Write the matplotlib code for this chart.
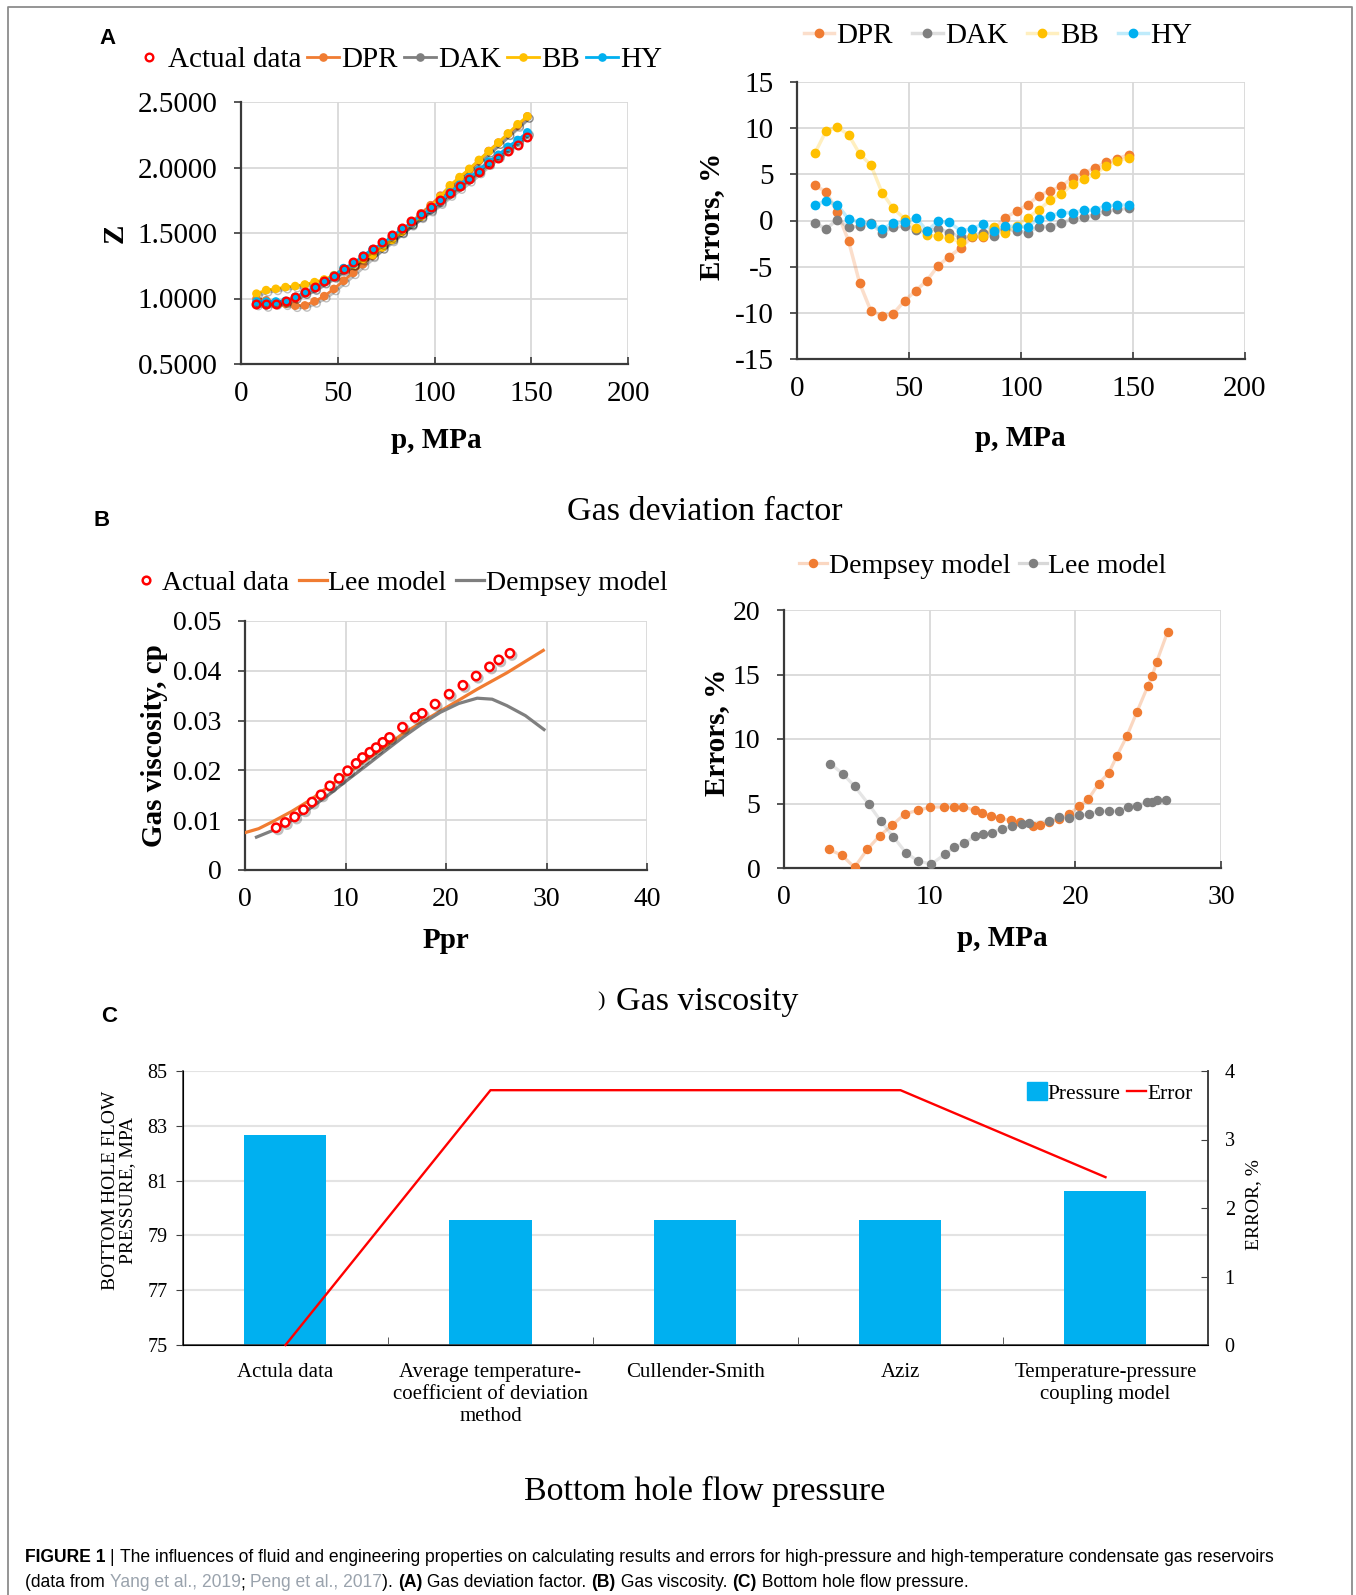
import matplotlib
matplotlib.use("Agg")
import matplotlib.pyplot as plt
import numpy as np
from matplotlib.lines import Line2D
from matplotlib.patches import Patch
from matplotlib import font_manager
import matplotlib.patheffects as pe

# ---------------- data: panel A (gas deviation factor) ----------------
p_A = [8, 13, 18, 23, 28, 33, 38, 43, 48, 53, 58, 63, 68, 73, 78, 83, 88, 93, 98,
       103, 108, 113, 118, 123, 128, 133, 138, 143, 148]
z_actual = [0.961, 0.956, 0.961, 0.981, 1.014, 1.049, 1.090, 1.132, 1.175, 1.228, 1.279, 1.327,
            1.380, 1.435, 1.486, 1.536, 1.594, 1.645, 1.695, 1.755, 1.806, 1.859, 1.909, 1.962,
            2.023, 2.073, 2.124, 2.174, 2.230]
z_dpr = [0.998, 0.986, 0.970, 0.960, 0.945, 0.947, 0.978, 1.018, 1.073, 1.135, 1.196, 1.262,
         1.326, 1.392, 1.460, 1.508, 1.580, 1.650, 1.712, 1.785, 1.855, 1.918, 1.980, 2.052,
         2.126, 2.190, 2.257, 2.320, 2.390]
z_dak = [0.958, 0.947, 0.962, 0.974, 1.008, 1.046, 1.075, 1.124, 1.168, 1.216, 1.265, 1.315,
         1.362, 1.409, 1.461, 1.516, 1.567, 1.630, 1.675, 1.732, 1.794, 1.847, 1.903, 1.966,
         2.030, 2.085, 2.145, 2.200, 2.259]
z_bb = [1.037, 1.064, 1.074, 1.087, 1.095, 1.107, 1.125, 1.145, 1.178, 1.226, 1.258, 1.301,
        1.334, 1.390, 1.447, 1.510, 1.574, 1.624, 1.700, 1.776, 1.864, 1.927, 1.990, 2.058,
        2.124, 2.190, 2.260, 2.330, 2.390]
z_hy = [0.977, 0.976, 0.977, 0.982, 1.012, 1.045, 1.080, 1.129, 1.173, 1.232, 1.265, 1.326,
        1.377, 1.419, 1.473, 1.530, 1.576, 1.635, 1.684, 1.744, 1.810, 1.868, 1.925, 1.979,
        2.045, 2.097, 2.158, 2.210, 2.268]
err_dpr = [3.8, 3.1, 0.9, -2.2, -6.8, -9.8, -10.3, -10.1, -8.7, -7.6, -6.5, -4.9, -3.9, -3.0,
           -1.8, -1.8, -0.9, 0.3, 1.0, 1.7, 2.7, 3.2, 3.7, 4.6, 5.1, 5.7, 6.3, 6.7, 7.1]
err_dak = [-0.3, -0.9, 0.1, -0.75, -0.6, -0.3, -1.35, -0.7, -0.6, -1.0, -1.1, -0.9, -1.3, -1.8,
           -1.7, -1.3, -1.7, -0.9, -1.15, -1.3, -0.65, -0.65, -0.3, 0.2, 0.35, 0.6, 1.0, 1.2, 1.3]
err_bb = [7.3, 9.7, 10.1, 9.3, 7.2, 6.0, 3.0, 1.3, 0.2, -0.8, -1.6, -1.7, -1.9, -2.3, -1.7,
          -1.65, -0.75, -1.3, -0.6, 0.3, 1.15, 2.2, 2.9, 3.9, 4.5, 5.0, 5.9, 6.4, 6.8]
err_hy = [1.7, 2.1, 1.7, 0.15, -0.15, -0.4, -0.9, -0.3, -0.2, 0.3, -1.1, -0.1, -0.2, -1.1,
          -0.9, -0.4, -1.1, -0.6, -0.65, -0.65, 0.2, 0.5, 0.85, 0.85, 1.1, 1.15, 1.6, 1.65, 1.7]
z_ticks = [0.5, 1.0, 1.5, 2.0, 2.5]
z_ticklabels = ["0.5000", "1.0000", "1.5000", "2.0000", "2.5000"]
pA_ticks = [0, 50, 100, 150, 200]
errA_ticks = [-15, -10, -5, 0, 5, 10, 15]

# ---------------- data: panel B (gas viscosity) ----------------
ppr_actual = [3.1, 4.0, 4.94, 5.82, 6.67, 7.56, 8.44, 9.36, 10.21, 11.06, 11.69, 12.42, 13.05,
              13.71, 14.38, 15.67, 16.92, 17.62, 18.91, 20.31, 21.68, 23.0, 24.33, 25.25, 26.36]
mu_actual = [0.00848, 0.00954, 0.01066, 0.0121, 0.01364, 0.0151, 0.01689, 0.01841, 0.01993,
             0.0214, 0.02258, 0.02364, 0.02457, 0.02563, 0.02662, 0.02868, 0.03066, 0.03146,
             0.03331, 0.0353, 0.03709, 0.03894, 0.04079, 0.04219, 0.04351]
ppr_lee = [0, 1.36, 2.84, 4.68, 6.53, 8.37, 10.2, 12.05, 13.9, 15.74, 17.59, 19.43, 21.27,
           23.1, 26.06, 29.68]
mu_lee = [0.0075, 0.0083, 0.0098, 0.0118, 0.0141, 0.0168, 0.0194, 0.0221, 0.0247, 0.0274,
          0.0297, 0.0319, 0.0341, 0.0363, 0.0396, 0.0441]
ppr_demp = [1.14, 2.84, 4.68, 6.53, 8.37, 10.2, 12.05, 13.9, 15.74, 17.59, 19.43, 21.27, 23.1,
            24.59, 26.06, 27.9, 29.75]
mu_demp = [0.0066, 0.0080, 0.0100, 0.01245, 0.01517, 0.01808, 0.02093, 0.02384, 0.02669,
           0.02934, 0.03166, 0.03344, 0.0345, 0.0343, 0.0330, 0.0310, 0.0282]
p_err_demp = [3.06, 3.97, 4.84, 5.72, 6.56, 7.43, 8.31, 9.23, 10.04, 11.0, 11.65, 12.31, 13.13,
              13.62, 14.24, 14.85, 15.59, 16.21, 17.07, 17.57, 18.18, 18.9, 19.59, 20.28, 20.9,
              21.61, 22.3, 22.85, 23.54, 24.23, 24.97, 25.27, 25.59, 26.33]
err_demp = [1.45, 0.99, 0.05, 1.45, 2.49, 3.32, 4.21, 4.47, 4.73, 4.73, 4.73, 4.73, 4.47, 4.26,
            4.05, 3.84, 3.69, 3.58, 3.22, 3.32, 3.58, 3.79, 4.16, 4.83, 5.35, 6.55, 7.38, 8.68,
            10.23, 12.1, 14.08, 14.86, 16.0, 18.29]
p_err_lee = [3.16, 4.02, 4.84, 5.82, 6.64, 7.5, 8.36, 9.23, 10.12, 11.08, 11.7, 12.39, 13.13,
             13.67, 14.29, 14.98, 15.64, 16.33, 16.83, 18.18, 18.9, 19.59, 20.28, 20.95, 21.61,
             22.3, 22.99, 23.59, 24.23, 24.9, 25.27, 25.59, 26.25]
err_lee = [8.1, 7.32, 6.34, 4.94, 3.64, 2.44, 1.19, 0.52, 0.31, 1.09, 1.61, 1.92, 2.49, 2.6,
           2.75, 3.06, 3.22, 3.38, 3.48, 3.64, 3.95, 3.84, 4.1, 4.16, 4.42, 4.42, 4.42, 4.73,
           4.83, 5.12, 5.14, 5.3, 5.25]
mu_ticks = [0, 0.01, 0.02, 0.03, 0.04, 0.05]
mu_ticklabels = ["0", "0.01", "0.02", "0.03", "0.04", "0.05"]
ppr_ticks = [0, 10, 20, 30, 40]
pB_ticks = [0, 10, 20, 30]
errB_ticks = [0, 5, 10, 15, 20]

# ---------------- data: panel C (bottom hole flow pressure) ----------------
methods = ["Actula data", "Average temperature-\ncoefficient of deviation\nmethod",
           "Cullender-Smith", "Aziz", "Temperature-pressure\ncoupling model"]
bhp = [82.66, 79.58, 79.58, 79.58, 80.63]
bhp_error = [0.0, 3.72, 3.72, 3.72, 2.45]
bhp_ticks = [75, 77, 79, 81, 83, 85]
errC_ticks = [0, 1, 2, 3, 4]

# ---------------- styling ----------------
W, H = 1356, 1595
DPI = 100
SERIF = "Liberation Serif"
C_ORANGE = "#F07C32"
C_GREY = "#7F7F7F"
C_GOLD = "#FFC000"
C_BLUE = "#00B0F0"
C_RED = "#FF0000"
GRID = "#D9D9D9"
AX = "#3A3A3A"

plt.rcParams["font.family"] = [SERIF, "DejaVu Serif"]
plt.rcParams["axes.unicode_minus"] = False
fig = plt.figure(figsize=(W / DPI, H / DPI), dpi=DPI)
fig.patch.set_facecolor("white")


def axes_px(l, t, r, b):
    return fig.add_axes([l / W, 1 - b / H, (r - l) / W, (b - t) / H])


def fx(x):
    return x / W


def fy(y):
    return 1 - y / H


def style_xy(ax, fs):
    ax.grid(True, color=GRID, lw=1.3, zorder=0)
    ax.set_axisbelow(True)
    for s in ("top", "right"):
        ax.spines[s].set_visible(False)
    for s in ("left", "bottom"):
        ax.spines[s].set_color(AX)
        ax.spines[s].set_linewidth(1.6)
    ax.tick_params(axis="y", direction="out", length=5, width=1.2, color=AX,
                   labelsize=fs, pad=12)
    ax.tick_params(axis="x", direction="in", length=5, width=1.2, color=AX,
                   labelsize=fs, pad=12)


def place_labels(ax, xl, yl, xpos, ypos, fs):
    ax.set_xlabel(xl, fontsize=fs, fontweight="bold", va="center", ha="center")
    ax.set_ylabel(yl, fontsize=fs, fontweight="bold", va="center", ha="center")
    ax.xaxis.set_label_coords(fx(xpos[0]), fy(xpos[1]), transform=fig.transFigure)
    ax.yaxis.set_label_coords(fx(ypos[0]), fy(ypos[1]), transform=fig.transFigure)


# figure frame (open at the bottom)
fig.add_artist(Line2D([fx(8), fx(8), fx(1352), fx(1352)], [0, fy(7), fy(7), 0],
                      transform=fig.transFigure, color="#8C8C8C", lw=1.3))

# panel letters
for letter, (x, y) in {"A": (107, 38), "B": (102, 521), "C": (109, 1016)}.items():
    fig.text(fx(x), fy(y), letter, fontsize=16, fontweight="bold",
             family=["Liberation Sans", "DejaVu Sans"], ha="center", va="center")

FS_A = 21
shadow = [pe.SimpleLineShadow(offset=(1.5, -1.5), alpha=0.25, shadow_color="k"), pe.Normal()]

# ---- Panel A left: Z vs p
axA1 = axes_px(241, 102, 628, 364)
style_xy(axA1, FS_A)
ms = 5.2
for data, col, lab in ((z_dpr, C_ORANGE, "DPR"), (z_dak, C_GREY, "DAK"),
                       (z_bb, C_GOLD, "BB"), (z_hy, C_BLUE, "HY")):
    axA1.plot(p_A, data, "-o", color=col, ms=ms, lw=2.0, label=lab, zorder=3,
              path_effects=shadow)
axA1.plot(p_A, z_actual, "o", mfc="none", mec=C_RED, mew=1.7, ms=5.5, label="Actual data",
          zorder=5)
axA1.set_xlim(0, 200)
axA1.set_ylim(0.5, 2.5)
axA1.set_xticks(pA_ticks)
axA1.set_yticks(z_ticks)
axA1.set_yticklabels(z_ticklabels)
place_labels(axA1, "p, MPa", "Z", (436, 441), (115, 233), 21)
hA1 = [Line2D([], [], ls="none", marker="o", mfc="none", mec=C_RED, mew=1.7, ms=5.5)] + \
      [Line2D([], [], color=c, marker="o", ms=ms, lw=2.0) for c in (C_ORANGE, C_GREY, C_GOLD, C_BLUE)]
fig.legend(hA1, ["Actual data", "DPR", "DAK", "BB", "HY"], loc="center",
           bbox_to_anchor=(fx(398), fy(60)), ncol=5, frameon=False, fontsize=FS_A,
           handlelength=1.1, handletextpad=0.08, columnspacing=0.2, borderpad=0)

# ---- Panel A right: errors
axA2 = axes_px(797, 82, 1245, 359)
style_xy(axA2, FS_A)
msA2 = 6.0
for data, col, lab in ((err_dpr, C_ORANGE, "DPR"), (err_dak, C_GREY, "DAK"),
                       (err_bb, C_GOLD, "BB"), (err_hy, C_BLUE, "HY")):
    axA2.plot(p_A, data, "-", color=col, lw=2.5, alpha=0.25, zorder=2)
    axA2.plot(p_A, data, "o", color=col, ms=msA2, label=lab, zorder=3)
axA2.set_xlim(0, 200)
axA2.set_ylim(-15, 15)
axA2.set_xticks(pA_ticks)
axA2.set_yticks(errA_ticks)
place_labels(axA2, "p, MPa", "Errors, %", (1020, 439), (712, 216), 21)
hA2 = [(Line2D([], [], color=c, lw=2.5, alpha=0.25), Line2D([], [], color=c, ls="none", marker="o", ms=msA2))
       for c in (C_ORANGE, C_GREY, C_GOLD, C_BLUE)]
fig.legend(hA2, ["DPR", "DAK", "BB", "HY"], loc="center",
           bbox_to_anchor=(fx(998), fy(36)), ncol=4, frameon=False, fontsize=FS_A,
           handlelength=1.05, handletextpad=0.08, columnspacing=0.65, borderpad=0)

fig.text(fx(705), fy(512), "Gas deviation factor", fontsize=24.5, ha="center", va="center")

# ---- Panel B left: viscosity
FS_B = 20
axB1 = axes_px(245, 621, 647, 870)
style_xy(axB1, FS_B)
axB1.plot(ppr_lee, mu_lee, "-", color=C_ORANGE, lw=2.3, zorder=3, label="Lee model")
axB1.plot(ppr_demp, mu_demp, "-", color=C_GREY, lw=2.3, zorder=3, label="Dempsey model")
axB1.plot(ppr_actual, mu_actual, "o", mfc="white", mec=C_RED, mew=1.8, ms=6,
          zorder=5, label="Actual data", path_effects=shadow)
axB1.set_xlim(0, 40)
axB1.set_ylim(0, 0.05)
axB1.set_xticks(ppr_ticks)
axB1.set_yticks(mu_ticks)
axB1.set_yticklabels(mu_ticklabels)
place_labels(axB1, "Ppr", "Gas viscosity, cp", (446, 940), (155, 746), 21)
hB1 = [Line2D([], [], ls="none", marker="o", mfc="white", mec=C_RED, mew=1.8, ms=5.5),
       Line2D([], [], color=C_ORANGE, lw=2.3), Line2D([], [], color=C_GREY, lw=2.3)]
fig.legend(hB1, ["Actual data", "Lee model", "Dempsey model"], loc="center",
           bbox_to_anchor=(fx(400), fy(583)), ncol=3, frameon=False, fontsize=FS_B,
           handlelength=1.0, handletextpad=0.06, columnspacing=0.35, borderpad=0)

# ---- Panel B right: viscosity errors
axB2 = axes_px(784, 610, 1221, 868)
style_xy(axB2, FS_B)
axB2.plot(p_err_demp, err_demp, "-", color=C_ORANGE, lw=2.3, alpha=0.3, zorder=2)
axB2.plot(p_err_demp, err_demp, "o", color=C_ORANGE, ms=5.8, zorder=3)
axB2.plot(p_err_lee, err_lee, "-", color=C_GREY, lw=2.3, alpha=0.2, zorder=2)
axB2.plot(p_err_lee, err_lee, "o", color=C_GREY, ms=5.8, zorder=3)
axB2.set_xlim(0, 30)
axB2.set_ylim(0, 20)
axB2.set_xticks(pB_ticks)
axB2.set_yticks(errB_ticks)
place_labels(axB2, "p, MPa", "Errors, %", (1002, 939), (717, 732), 21)
hB2 = [(Line2D([], [], color=c, lw=2.3, alpha=0.3), Line2D([], [], color=c, ls="none", marker="o", ms=5.8))
       for c in (C_ORANGE, C_GREY)]
fig.legend(hB2, ["Dempsey model", "Lee model"], loc="center",
           bbox_to_anchor=(fx(983), fy(566)), ncol=2, frameon=False, fontsize=FS_B,
           handlelength=1.0, handletextpad=0.06, columnspacing=0.3, borderpad=0)

fig.text(fx(707), fy(1002), "Gas viscosity", fontsize=24.5, ha="center", va="center")
fig.text(fx(601), fy(1002), ")", fontsize=16, ha="center", va="center")

# ---- Panel C: bottom hole flow pressure
axC = axes_px(183, 1071, 1208, 1345)
xc = np.arange(len(methods))
axC.bar(xc, bhp, width=0.4, color=C_BLUE, zorder=2, label="Pressure")
axC.set_ylim(75, 85)
axC.set_xlim(-0.5, len(methods) - 0.5)
axC.set_yticks(bhp_ticks)
axC.yaxis.grid(True, color="#E3E3E3", lw=1.5, zorder=0)
axC.set_axisbelow(True)
axC.spines["top"].set_visible(False)
for s in ("left", "bottom", "right"):
    axC.spines[s].set_color("#404040")
    axC.spines[s].set_linewidth(1.2)
axC.set_xticks(xc)
axC.set_xticklabels(methods, fontsize=15, linespacing=1.22)
axC.set_xticks(np.arange(0.5, len(methods) - 0.5, 1.0), minor=True)
axC.tick_params(axis="x", which="major", length=0, pad=13)
axC.tick_params(axis="x", which="minor", direction="in", length=6, color="#404040")
axC.tick_params(axis="y", direction="out", length=5, labelsize=14.5, pad=6, color="#404040")
axC.set_ylabel("BOTTOM HOLE FLOW\nPRESSURE, MPA", fontsize=14, linespacing=1.05,
               va="center", ha="center")
axC.yaxis.set_label_coords(fx(119), fy(1190), transform=fig.transFigure)

axC2 = axC.twinx()
axC2.plot(xc, bhp_error, "-", color=C_RED, lw=1.7, label="Error", clip_on=False, zorder=4)
axC2.set_ylim(0, 4)
axC2.set_yticks(errC_ticks)
axC2.tick_params(axis="y", direction="in", length=5, labelsize=14.5, pad=12, color="#404040")
axC2.spines["top"].set_visible(False)
axC2.spines["right"].set_color("#404040")
axC2.spines["right"].set_linewidth(1.2)
axC2.set_ylabel("ERROR, %", fontsize=14, va="center", ha="center")
axC2.yaxis.set_label_coords(fx(1254), fy(1205), transform=fig.transFigure)
hC = [Patch(color=C_BLUE), Line2D([], [], color=C_RED, lw=1.7)]
axC2.legend(hC, ["Pressure", "Error"], loc="center", bbox_to_anchor=(fx(1110), fy(1093)),
            bbox_transform=fig.transFigure, ncol=2, frameon=False, fontsize=15.5,
            handlelength=0.9, handleheight=0.9, handletextpad=0.05, columnspacing=0.3,
            borderpad=0)

fig.text(fx(705), fy(1491), "Bottom hole flow pressure", fontsize=24.5, ha="center",
         va="center")

# ---- caption
names = {f.name for f in font_manager.fontManager.ttflist}
cap_family = "Liberation Sans Narrow" if "Liberation Sans Narrow" in names else "Liberation Sans"
renderer = fig.canvas.get_renderer()
LINK = "#9AA3AD"


def piece_width(s, size, weight):
    t1 = fig.text(0, 0, "|" + s + "|", fontsize=size, fontweight=weight, family=cap_family)
    t2 = fig.text(0, 0, "||", fontsize=size, fontweight=weight, family=cap_family)
    w = t1.get_window_extent(renderer).width - t2.get_window_extent(renderer).width
    t1.remove()
    t2.remove()
    return w


line1 = [("FIGURE 1 ", "bold", "black"), ("| ", "normal", "black"),
         ("The influences of fluid and engineering properties on calculating results and errors "
          "for high-pressure and high-temperature condensate gas reservoirs", "normal", "black")]
line2 = [("(data from ", "normal", "black"), ("Yang et al., 2019", "normal", LINK),
         ("; ", "normal", "black"), ("Peng et al., 2017", "normal", LINK),
         ("). ", "normal", "black"), ("(A)", "bold", "black"),
         (" Gas deviation factor. ", "normal", "black"), ("(B)", "bold", "black"),
         (" Gas viscosity. ", "normal", "black"), ("(C)", "bold", "black"),
         (" Bottom hole flow pressure.", "normal", "black")]

base = 12.0
w1 = sum(piece_width(s, base, wt) for s, wt, c in line1)
cap_size = base * 1255.0 / w1


def rich_line(pieces, x0, y0):
    x = x0
    for s, wt, col in pieces:
        fig.text(fx(x), fy(y0), s, fontsize=cap_size, fontweight=wt, color=col,
                 family=cap_family, ha="left", va="baseline")
        x += piece_width(s, cap_size, wt)


rich_line(line1, 25, 1562)
rich_line(line2, 25, 1587)

fig.savefig("out.png", dpi=DPI, facecolor="white")
